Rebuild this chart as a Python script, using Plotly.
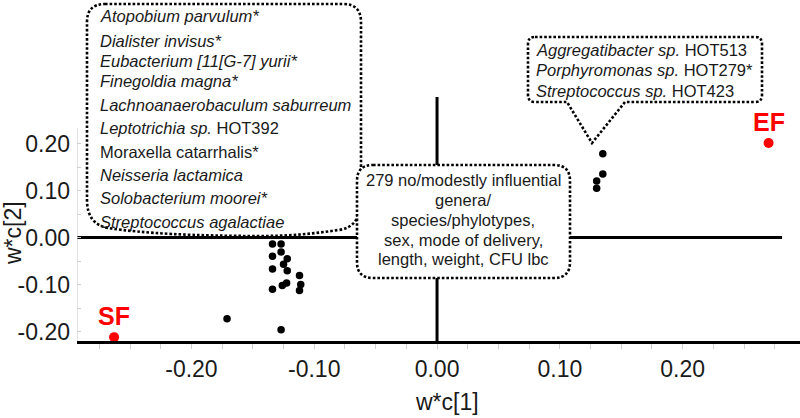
import plotly.graph_objects as go

# ---------------- data ----------------
cluster_x = [-0.134, -0.127, -0.134, -0.127, -0.122, -0.125, -0.134, -0.122,
             -0.112, -0.111, -0.112, -0.1225, -0.126, -0.134, -0.127, -0.171,
             0.135, 0.135, 0.130, 0.130]
cluster_y = [-0.014, -0.014, -0.040, -0.031, -0.045, -0.057, -0.067, -0.071,
             -0.081, -0.100, -0.113, -0.097, -0.102, -0.110, -0.196, -0.173,
             0.178, 0.135, 0.120, 0.105]
ref_labels = ["SF", "EF"]
ref_x = [-0.263, 0.270]
ref_y = [-0.212, 0.201]

x_tickvals = [-0.2, -0.1, 0.0, 0.1, 0.2]
x_ticktext = ["-0.20", "-0.10", "0.00", "0.10", "0.20"]
x_minor = [-0.275, -0.25, -0.225, -0.175, -0.15, -0.125, -0.075, -0.05, -0.025,
           0.025, 0.05, 0.075, 0.125, 0.15, 0.175, 0.225, 0.25, 0.275]
y_tickvals = [-0.2, -0.1, 0.0, 0.1, 0.2]
y_ticktext = ["-0.20", "-0.10", "0.00", "0.10", "0.20"]
y_minor = [-0.15, -0.05, 0.05, 0.15]

left_box_lines = [
    "<i>Atopobium parvulum*</i>",
    "<i>Dialister invisus*</i>",
    "<i>Eubacterium [11[G-7] yurii*</i>",
    "<i>Finegoldia magna*</i>",
    "<i>Lachnoanaerobaculum saburreum</i>",
    "<i>Leptotrichia sp.</i> HOT392",
    "Moraxella catarrhalis*",
    "<i>Neisseria lactamica</i>",
    "<i>Solobacterium moorei*</i>",
    "<i>Streptococcus agalactiae</i>",
]
mid_box_lines = [
    "279 no/modestly influential",
    "genera/",
    "species/phylotypes,",
    "sex, mode of delivery,",
    "length, weight, CFU lbc",
]
right_box_lines = [
    "<i>Aggregatibacter sp.</i> HOT513",
    "<i>Porphyromonas sp.</i> HOT279*",
    "<i>Streptococcus sp.</i> HOT423",
]

# ---------------- layout geometry ----------------
W, H = 800, 418
ML, MR, MT, MB = 77, 0, 0, 77
PW = W - ML - MR
PH = H - MT - MB
XR = [-0.2932, 0.2956]
YR = [-0.2202, 0.5053]
FONT = "Liberation Sans, Arial, sans-serif"
TXT = "#1a1a1a"


def px(x):
    return (x - ML) / PW


def py(y):
    return (MT + PH - y) / PH


def path(cmds):
    out = []
    for c in cmds:
        if isinstance(c, str):
            out.append(c)
        else:
            out.append(f"{px(c[0]):.5f},{py(c[1]):.5f}")
    return " ".join(out)


fig = go.Figure()

fig.add_trace(go.Scatter(
    x=cluster_x, y=cluster_y, mode="markers",
    marker=dict(color="black", size=7.5), showlegend=False, hoverinfo="skip"))
fig.add_trace(go.Scatter(
    x=ref_x, y=ref_y, mode="markers",
    marker=dict(color="#ff0000", size=10), showlegend=False, hoverinfo="skip"))

shapes = []
# reference lines
shapes.append(dict(type="line", xref="x", yref="y", x0=XR[0], x1=0.281, y0=0, y1=0,
                   line=dict(color="black", width=3), layer="below"))
shapes.append(dict(type="line", xref="x", yref="y", x0=0, x1=0, y0=YR[0], y1=0.299,
                   line=dict(color="black", width=3), layer="below"))
shapes.append(dict(type="line", xref="x", yref="y", x0=XR[0], x1=XR[0], y0=YR[0], y1=0.233,
                   line=dict(color="#c8c8c8", width=1), layer="below"))

box_line = dict(color="black", width=2.6, dash="2.6px,2px")
left_box = path(["M", (105, 4), "L", (343, 4), "Q", (361, 4), (361, 22), "L", (361, 198),
                 "Q", (361, 228), (338, 230), "Q", (300, 236), (262, 236),
                 "Q", (160, 236), (108, 228), "Q", (87, 224), (87, 200),
                 "L", (87, 22), "Q", (87, 4), (105, 4), "Z"])
mid_box = path(["M", (373, 165), "L", (554, 165), "Q", (570, 165), (570, 181),
                "L", (570, 262), "Q", (570, 278), (554, 278), "L", (373, 278),
                "Q", (357, 278), (357, 262), "L", (357, 181), "Q", (357, 165), (373, 165), "Z"])
right_box = path(["M", (535, 37), "L", (755, 37), "Q", (762, 37), (762, 44),
                  "L", (762, 95), "Q", (762, 102), (755, 102), "L", (625, 102),
                  "L", (592, 143), "L", (567, 102), "L", (535, 102),
                  "Q", (528, 102), (528, 95), "L", (528, 44), "Q", (528, 37), (535, 37), "Z"])
for p in (left_box, mid_box, right_box):
    shapes.append(dict(type="path", xref="paper", yref="paper", path=p,
                       fillcolor="white", line=box_line, layer="above"))

annotations = []
left_y = [16, 41, 61, 81, 105, 128, 152, 175, 198, 222]
for t, yy in zip(left_box_lines, left_y):
    annotations.append(dict(xref="paper", yref="paper", x=px(98), y=py(yy), text=t,
                            showarrow=False, xanchor="left", yanchor="middle",
                            font=dict(family=FONT, size=16.5, color=TXT)))
mid_y = [180, 200, 220, 240, 259]
for t, yy in zip(mid_box_lines, mid_y):
    annotations.append(dict(xref="paper", yref="paper", x=px(463), y=py(yy), text=t,
                            showarrow=False, xanchor="center", yanchor="middle",
                            font=dict(family=FONT, size=16.5, color=TXT)))
right_y = [50, 70, 90.5]
for t, yy in zip(right_box_lines, right_y):
    annotations.append(dict(xref="paper", yref="paper", x=px(534), y=py(yy), text=t,
                            showarrow=False, xanchor="left", yanchor="middle",
                            font=dict(family=FONT, size=16.5, color=TXT)))

# SF / EF labels
for lab, xx, yy in zip(ref_labels, ref_x, ref_y):
    annotations.append(dict(xref="x", yref="y", x=xx, y=yy, text=f"<b>{lab}</b>",
                            showarrow=False, xanchor="center", yanchor="middle", yshift=21,
                            font=dict(family=FONT, size=25, color="#ff0000")))

# axis titles
annotations.append(dict(xref="paper", yref="paper", x=px(447), y=py(402), text="w*c[1]",
                        showarrow=False, xanchor="center", yanchor="middle",
                        font=dict(family=FONT, size=23, color=TXT)))
annotations.append(dict(xref="paper", yref="paper", x=px(13), y=py(233), text="w*c[2]",
                        showarrow=False, xanchor="center", yanchor="middle", textangle=-90,
                        font=dict(family=FONT, size=23, color=TXT)))

fig.update_layout(
    width=W, height=H,
    margin=dict(l=ML, r=MR, t=MT, b=MB, pad=0),
    paper_bgcolor="white", plot_bgcolor="white",
    shapes=shapes, annotations=annotations,
    showlegend=False,
    font=dict(family=FONT, color=TXT),
)
fig.update_xaxes(
    range=XR, showgrid=False, zeroline=False,
    showline=True, linecolor="black", linewidth=3,
    tickmode="array", tickvals=x_tickvals, ticktext=x_ticktext,
    ticks="outside", ticklen=5, tickcolor="#d0d0d0", tickwidth=1,
    ticklabelstandoff=0,
    tickfont=dict(family=FONT, size=23, color=TXT),
    minor=dict(tickmode="array", tickvals=x_minor, ticks="outside", ticklen=5,
               tickcolor="#d0d0d0", tickwidth=1, showgrid=False),
)
fig.update_yaxes(
    range=YR, showgrid=False, zeroline=False, showline=False,
    tickmode="array", tickvals=y_tickvals, ticktext=y_ticktext,
    ticks="inside", ticklen=4, tickcolor="#d0d0d0", tickwidth=1,
    ticklabelstandoff=6,
    tickfont=dict(family=FONT, size=23, color=TXT),
    minor=dict(tickmode="array", tickvals=y_minor, ticks="inside", ticklen=4,
               tickcolor="#d0d0d0", tickwidth=1, showgrid=False),
)

fig.write_html("out.html", config={"displayModeBar": False},
               post_script="document.body.style.margin='0';")
